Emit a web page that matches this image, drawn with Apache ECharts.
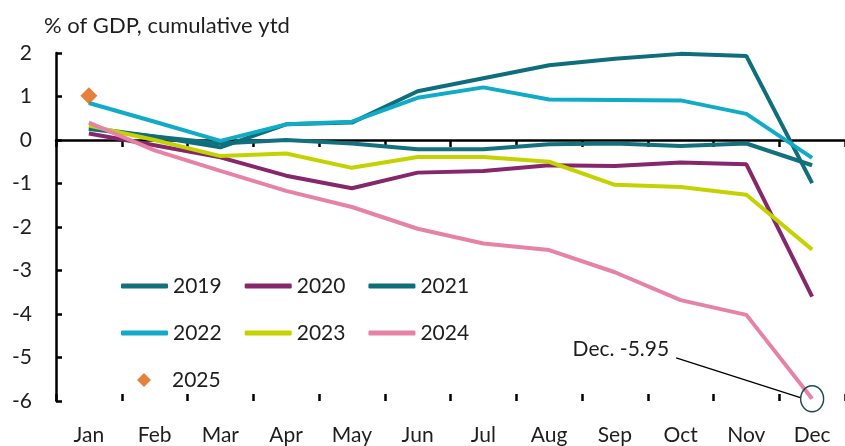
<!DOCTYPE html>
<html>
<head>
<meta charset="utf-8">
<script src="https://cdn.jsdelivr.net/npm/echarts@6/dist/echarts.min.js"></script>
<style>
  html, body { margin: 0; padding: 0; background: #fff; }
  #chart { width: 845px; height: 446px; }
</style>
</head>
<body>
<div id="chart"></div>
<script>
// month categories
const months = ["Jan", "Feb", "Mar", "Apr", "May", "Jun", "Jul", "Aug", "Sep", "Oct", "Nov", "Dec"];
const yTicks = [-6, -5, -4, -3, -2, -1, 0, 1, 2];

// % of GDP, cumulative ytd
const y2019 = [0.25, 0.08, -0.08, 0.0, -0.08, -0.21, -0.21, -0.1, -0.08, -0.14, -0.08, -0.58];
const y2020 = [0.15, -0.12, -0.4, -0.82, -1.11, -0.75, -0.71, -0.58, -0.6, -0.52, -0.56, -3.6];
const y2021 = [0.28, 0.08, -0.17, 0.36, 0.4, 1.12, 1.42, 1.72, 1.87, 1.98, 1.93, -0.99];
const y2022 = [0.85, 0.42, -0.02, 0.36, 0.42, 0.97, 1.21, 0.93, 0.92, 0.91, 0.6, -0.41];
const y2023 = [0.33, 0.0, -0.37, -0.31, -0.64, -0.39, -0.39, -0.5, -1.03, -1.08, -1.26, -2.52];
const y2024 = [0.4, -0.24, -0.71, -1.17, -1.54, -2.04, -2.38, -2.53, -3.04, -3.68, -4.02, -5.95];
const y2025 = [1.02];

const colors = {
  "2019": "#13717e",
  "2020": "#85276a",
  "2021": "#0f6e7b",
  "2022": "#10abc6",
  "2023": "#c4d200",
  "2024": "#e683a5",
  "2025": "#e0620b"
};

const font = "Lato";
const textColor = "#1e1e1e";

const chart = echarts.init(document.getElementById("chart"));

function lineSeries(name, data) {
  return {
    name: name,
    type: "line",
    data: data,
    symbol: "none",
    smooth: false,
    color: colors[name],
    lineStyle: { width: 4, color: colors[name] },
    z: 3
  };
}

const s2024 = lineSeries("2024", y2024);
// circle round the December value
s2024.markPoint = {
  symbol: "circle",
  symbolSize: [23, 26],
  silent: true,
  itemStyle: { color: "rgba(0,0,0,0)", borderColor: "#1d4b4d", borderWidth: 1.5 },
  label: { show: false },
  data: [{ coord: ["Dec", y2024[11]] }]
};

chart.setOption({
  animation: false,
  title: {
    text: "% of GDP, cumulative ytd",
    left: 39,
    top: 10,
    textStyle: { fontFamily: font, fontSize: 22, fontWeight: "normal", color: textColor }
  },
  grid: { left: 56, top: 53, width: 792, height: 348 },
  legend: [
    {
      data: ["2019", "2020", "2021", "2022", "2023", "2024"],
      icon: "roundRect",
      left: 121,
      top: 274,
      padding: 0,
      width: 380,
      itemWidth: 47,
      itemHeight: 5,
      itemGap: 23,
      textStyle: { fontFamily: font, fontSize: 21, color: textColor, lineHeight: 24 }
    },
    {
      data: [{ name: "2025", icon: "diamond" }],
      left: 137,
      top: 368,
      padding: 0,
      itemWidth: 14,
      itemHeight: 14,
      textStyle: { fontFamily: font, fontSize: 21, color: textColor, lineHeight: 24, padding: [0, 0, 0, 16] }
    }
  ],
  xAxis: [
    {
      type: "category",
      data: months,
      position: "bottom",
      axisLine: { show: false, onZero: false },
      axisTick: { show: false },
      axisLabel: { fontFamily: font, fontSize: 21, color: textColor, margin: 24 },
      splitLine: { show: false }
    },
    {
      type: "category",
      data: months,
      position: "bottom",
      axisLine: { show: true, onZero: true, lineStyle: { color: "#000", width: 2.5 } },
      axisTick: { show: true, length: 7, lineStyle: { color: "#000", width: 2.5 } },
      axisLabel: { show: false },
      splitLine: { show: false },
      z: 1
    },
    {
      type: "category",
      data: months,
      position: "bottom",
      axisLine: { show: false, onZero: true },
      axisTick: { show: true, inside: true, length: 7, lineStyle: { color: "#000", width: 2.5 } },
      axisLabel: { show: false },
      splitLine: { show: false },
      z: 1
    }
  ],
  yAxis: {
    type: "value",
    min: yTicks[0],
    max: yTicks[yTicks.length - 1],
    interval: 1,
    axisLine: { show: true, lineStyle: { color: "#000", width: 2.5 } },
    axisTick: { show: true, inside: true, length: 6, lineStyle: { color: "#000", width: 2.5 } },
    axisLabel: { fontFamily: font, fontSize: 21, color: textColor, margin: 24 },
    splitLine: { show: false }
  },
  series: [
    lineSeries("2019", y2019),
    lineSeries("2020", y2020),
    lineSeries("2021", y2021),
    lineSeries("2022", y2022),
    lineSeries("2023", y2023),
    s2024,
    {
      name: "2025",
      type: "scatter",
      data: y2025,
      symbol: "diamond",
      symbolSize: 17,
      itemStyle: { color: colors["2025"] },
      z: 4
    }
  ]
});

// leader line and label for the December 2024 value
const p = chart.convertToPixel({ xAxisIndex: 0, yAxisIndex: 0 }, ["Dec", y2024[11]]);
chart.setOption({
  graphic: [
    {
      type: "line",
      shape: { x1: p[0] - 136, y1: p[1] - 41, x2: p[0] - 11, y2: p[1] - 1 },
      style: { stroke: "#000", lineWidth: 1.3 },
      silent: true
    },
    {
      type: "text",
      x: p[0] - 143,
      y: p[1] - 50,
      style: {
        text: "Dec. -5.95",
        fontFamily: font,
        fontSize: 21,
        fill: textColor,
        align: "right",
        verticalAlign: "middle"
      },
      silent: true
    }
  ]
});
</script>
</body>
</html>
